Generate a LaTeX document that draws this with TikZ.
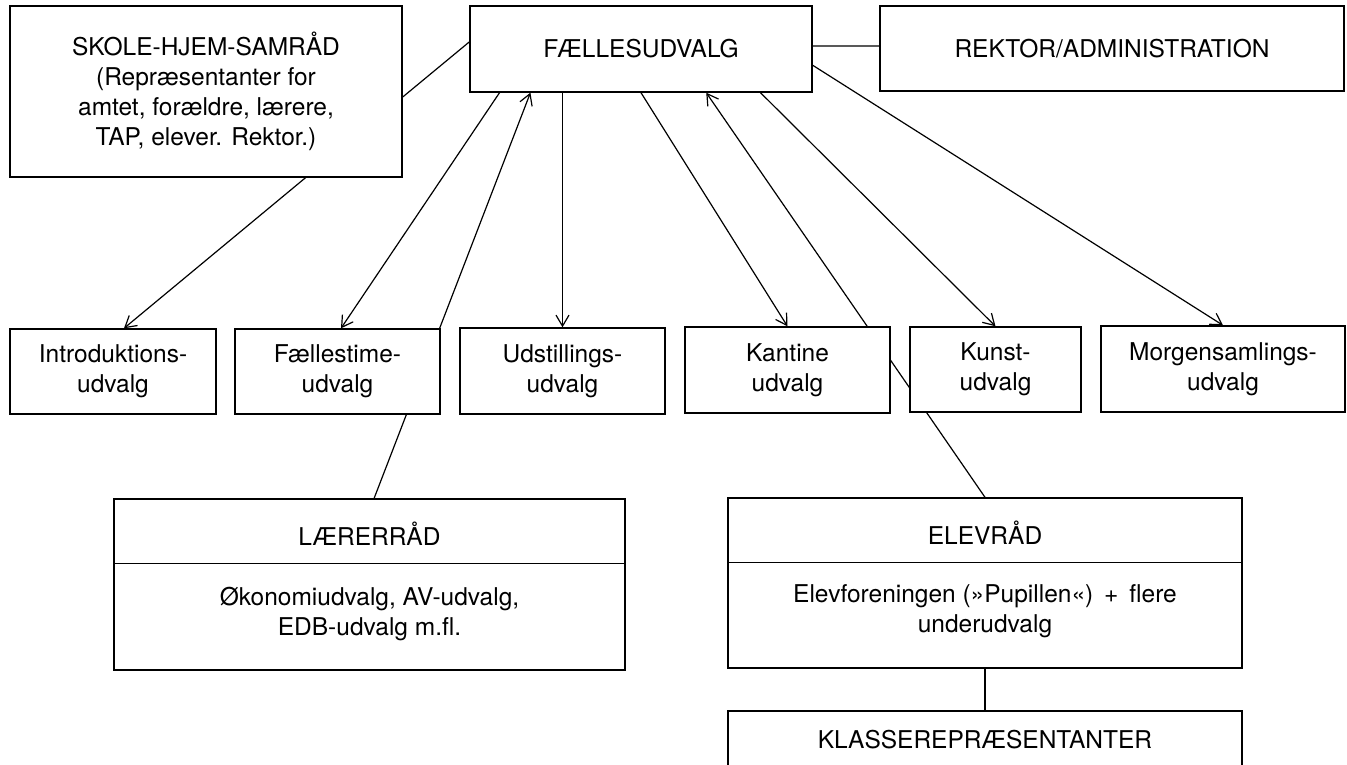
\documentclass[tikz,border=0pt]{standalone}
\usepackage{fontspec}
\setmainfont{TeX Gyre Heros}
\usetikzlibrary{arrows.meta,calc,backgrounds}
\newcommand\diafont{\fontsize{24.5pt}{30pt}\selectfont}
\begin{document}
\begin{tikzpicture}[x=1pt,y=-1pt,
  box/.style={draw, line width=1.4pt, fill=white, inner sep=0pt, align=center, font=\diafont},
  lbl/.style={inner sep=0pt, font=\diafont, anchor=base},
  txt/.style={inner sep=0pt, font=\diafont, align=center},
  conn/.style={line width=1.2pt},
  arr/.style={conn, -{Straight Barb[length=11pt,width=13pt,line width=1.2pt]}}]
\useasboundingbox (0,0) rectangle (1347,764);

% boxes
\node[box, minimum width=392pt, minimum height=171pt] (skole) at (206,91.5)
  {SKOLE-HJEM-SAMRÅD\\(Repræsentanter for\\amtet, forældre, lærere,\\TAP, elever. Rektor.)};
\node[box, minimum width=342pt, minimum height=86pt] (faelles) at (641,49) {FÆLLESUDVALG};
\node[box, minimum width=464pt, minimum height=85pt] (rektor) at (1112,48.5) {REKTOR/ADMINISTRATION};

\node[box, minimum width=206pt, minimum height=85pt] (intro) at (113,371.5) {Introduktions-\\udvalg};
\node[box, minimum width=205pt, minimum height=85pt] (fstime) at (337.5,371.5) {Fællestime-\\udvalg};
\node[box, minimum width=205pt, minimum height=86pt] (udst) at (562.5,371) {Udstillings-\\udvalg};
\node[box, minimum width=205pt, minimum height=86pt] (kantine) at (787.5,370) {Kantine\\udvalg};
\node[box, minimum width=171pt, minimum height=85pt] (kunst) at (995.5,369.5) {Kunst-\\udvalg};
\node[box, minimum width=244pt, minimum height=86pt] (morgen) at (1223,369) {Morgensamlings-\\udvalg};

\node[box, minimum width=511pt, minimum height=171pt] (laerer) at (369.5,584.5) {};
\draw[line width=1.4pt] ($(laerer.north west)+(0,65)$) -- ($(laerer.north east)+(0,65)$);
\node[lbl] (laerertitle) at (369.5,545) {LÆRERRÅD};
\node[txt] (laerertext) at (369.5,614) {Økonomiudvalg, AV-udvalg,\\EDB-udvalg m.fl.};

\node[box, minimum width=514pt, minimum height=170pt] (elev) at (985,583) {};
\draw[line width=1.4pt] ($(elev.north west)+(0,65)$) -- ($(elev.north east)+(0,65)$);
\node[lbl] (elevtitle) at (985,544) {ELEVRÅD};
\node[txt] (elevtext) at (985,611) {Elevforeningen (»Pupillen«) \,+\, flere\\underudvalg};

\node[box, minimum width=514pt, minimum height=61pt] (klasse) at (985,741.5) {};
\node[lbl] (klassetitle) at (985,748) {KLASSEREPRÆSENTANTER};

% connectors behind the boxes
\begin{scope}[on background layer]
\fill[white] (0,0) rectangle (1347,764);
\draw[conn] ($(skole.north east)!0.532!(skole.south east)$) -- ($(faelles.north west)!0.419!(faelles.south west)$);
\draw[conn] ($(faelles.north east)!0.465!(faelles.south east)$) -- ($(rektor.north west)!0.47!(rektor.south west)$);
\draw[arr] ($(skole.south west)!0.753!(skole.south east)$) -- ($(intro.north west)!0.553!(intro.north east)$);
\draw[arr] ($(faelles.south west)!0.088!(faelles.south east)$) -- ($(fstime.north west)!0.517!(fstime.north east)$);
\draw[arr] ($(laerer.north west)!0.509!(laerer.north east)$) -- ($(faelles.south west)!0.178!(faelles.south east)$);
\draw[arr] (faelles.south -| udst.north) -- (udst.north);
\draw[arr] (faelles.south) -- (kantine.north);
\draw[arr] (elev.north) -- ($(faelles.south west)!0.69!(faelles.south east)$);
\draw[arr] ($(faelles.south west)!0.848!(faelles.south east)$) -- (kunst.north);
\draw[arr] ($(faelles.north east)!0.686!(faelles.south east)$) -- (morgen.north);
\draw[conn] (elev.south) -- (klasse.north);
\end{scope}
\end{tikzpicture}
\end{document}
